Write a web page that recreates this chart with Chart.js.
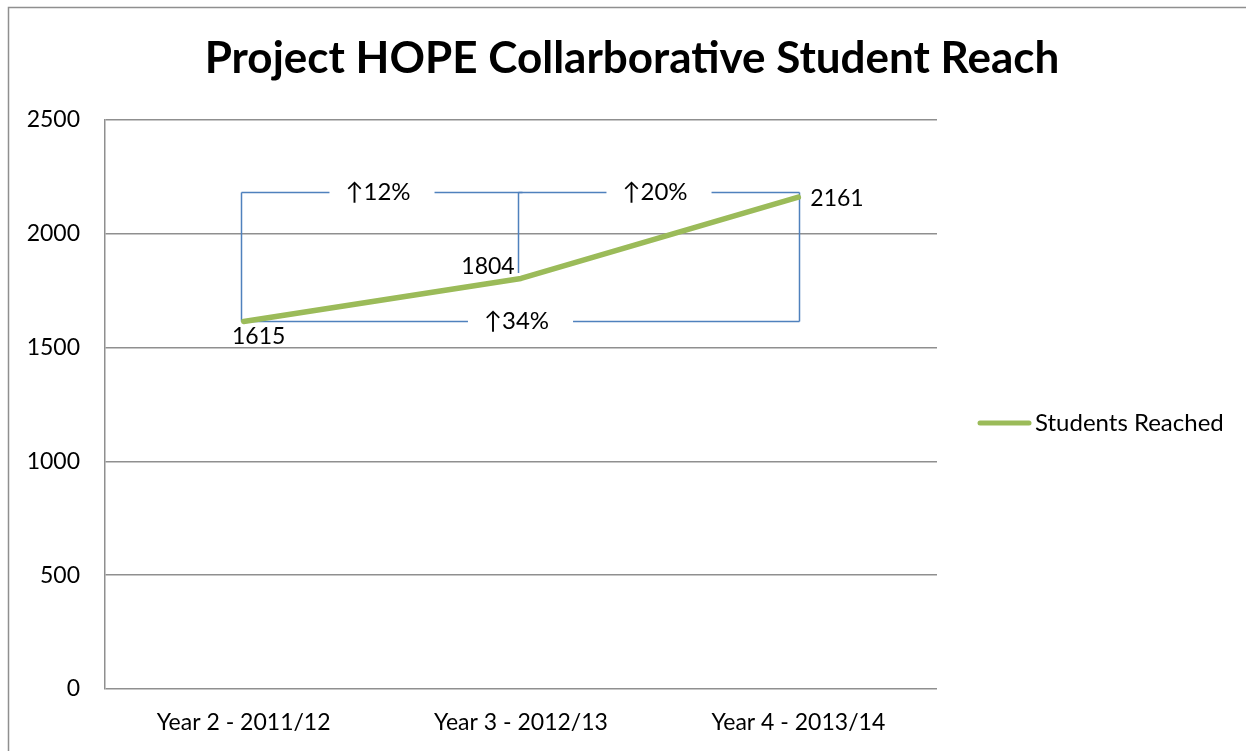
<!DOCTYPE html>
<html>
<head>
<meta charset="utf-8">
<script src="https://cdn.jsdelivr.net/npm/chart.js@4.4.1/dist/chart.umd.min.js"></script>
<style>
html, body { margin: 0; padding: 0; background: #fff; }
</style>
</head>
<body>
<canvas id="chart" width="1246" height="751"></canvas>
<script>
// data
const $title = 'Project HOPE Collarborative Student Reach';
const $categories = ['Year 2 - 2011/12', 'Year 3 - 2012/13', 'Year 4 - 2013/14'];
const $seriesName = 'Students Reached';
const $studentsReached = [1615, 1804, 2161];
const $yMin = 0;
const $yMax = 2500;
const $yStep = 500;
// growth brackets: [from index, to index]
const $brackets = [[0, 1], [1, 2], [0, 2]];

// styles
const $font = 'Lato, "Open Sans", sans-serif';
const $green = '#9BBB59';
const $blue = '#4F81BD';
const $gray = '#8f8f8f';

function growthText(a, b) {
    return '\u2191' + Math.round((b - a) / a * 100) + '%';
}

const $framePlugin = {
    id: 'frame',
    afterDraw(chart) {
        let ctx = chart.ctx;
        ctx.save();
        ctx.strokeStyle = $gray;
        ctx.lineWidth = 1.5;
        ctx.strokeRect(8.5, 7.5, 1260, 760);
        // title
        ctx.fillStyle = '#000';
        ctx.font = 'bold 44px ' + $font;
        ctx.textAlign = 'center';
        ctx.textBaseline = 'middle';
        ctx.fillText($title, 632, 59);
        // legend
        let ly = 423;
        ctx.strokeStyle = $green;
        ctx.lineWidth = 5;
        ctx.lineCap = 'round';
        ctx.beginPath();
        ctx.moveTo(980, ly);
        ctx.lineTo(1029, ly);
        ctx.stroke();
        ctx.font = '24px ' + $font;
        ctx.textAlign = 'left';
        ctx.fillText(chart.data.datasets[0].label, 1035, ly);
        ctx.restore();
    }
};

const $bracketPlugin = {
    id: 'brackets',
    beforeDatasetsDraw(chart) {
        let ctx = chart.ctx;
        let pts = chart.getDatasetMeta(0).data;
        let y = chart.scales.y;
        let vals = chart.data.datasets[0].data;
        let topY = Math.round(y.getPixelForValue(Math.max(...vals))) - 4.5;
        let botY = Math.round(y.getPixelForValue(vals[0])) + 0.5;
        ctx.save();
        ctx.strokeStyle = $blue;
        ctx.lineWidth = 1.5;
        ctx.font = '24px ' + $font;
        ctx.textAlign = 'center';
        ctx.textBaseline = 'middle';
        ctx.fillStyle = '#000';
        $brackets.forEach(function ([i, j]) {
            let x0 = Math.round(pts[i].x) - 2.5;
            let x1 = Math.round(pts[j].x) + 1.5;
            let isSpan = (j - i) > 1;
            let ly = isSpan ? botY : topY;
            let txt = growthText(vals[i], vals[j]);
            let half = ctx.measureText(txt).width / 2 + 20;
            let mid = (x0 + x1) / 2;
            ctx.beginPath();
            ctx.moveTo(x0, ly); ctx.lineTo(mid - half, ly);
            ctx.moveTo(mid + half, ly); ctx.lineTo(x1, ly);
            ctx.stroke();
            ctx.fillText(txt, mid - 4, ly);
        });
        // verticals
        ctx.beginPath();
        pts.forEach(function (p, k) {
            let x = Math.round(p.x) + (k === 2 ? 1.5 : -2.5);
            let end = k === 1 ? Math.round(p.y) - 5 : botY;
            ctx.moveTo(x, topY);
            ctx.lineTo(x, end);
        });
        ctx.stroke();
        ctx.restore();
    }
};

const $labelPlugin = {
    id: 'pointLabels',
    afterDatasetsDraw(chart) {
        let ctx = chart.ctx;
        let pts = chart.getDatasetMeta(0).data;
        let vals = chart.data.datasets[0].data;
        let offsets = [[15, 15, 'center'], [-33, -12, 'center'], [12, 1, 'left']];
        ctx.save();
        ctx.font = '23px ' + $font;
        ctx.fillStyle = '#000';
        ctx.textBaseline = 'middle';
        pts.forEach(function (p, k) {
            ctx.textAlign = offsets[k][2];
            ctx.fillText(String(vals[k]), p.x + offsets[k][0], p.y + offsets[k][1]);
        });
        ctx.restore();
    }
};

let $ctx = document.getElementById('chart').getContext('2d');
let $chart = new Chart($ctx, {
    type: 'line',
    data: {
        labels: $categories,
        datasets: [{
            label: $seriesName,
            data: $studentsReached,
            borderColor: $green,
            borderWidth: 5.5,
            pointRadius: 0,
            tension: 0,
            borderCapStyle: 'round',
            borderJoinStyle: 'round'
        }]
    },
    options: {
        responsive: false,
        animation: false,
        devicePixelRatio: 1,
        layout: {
            padding: { left: 8, right: 309, top: 120, bottom: 0 }
        },
        plugins: {
            legend: { display: false },
            title: { display: false },
            tooltip: { enabled: false }
        },
        scales: {
            x: {
                offset: true,
                grid: { display: false, drawTicks: false },
                border: { display: false },
                ticks: {
                    padding: 20,
                    color: '#000',
                    font: { family: $font, size: 23 },
                    maxRotation: 0
                },
                afterFit: function (scale) { scale.height = 62; }
            },
            y: {
                min: $yMin,
                max: $yMax,
                ticks: {
                    stepSize: $yStep,
                    padding: 25,
                    color: '#000',
                    font: { family: $font, size: 23 },
                    callback: function (v) { return String(v); }
                },
                grid: { color: $gray, lineWidth: 1.5, drawTicks: false },
                border: { display: true, color: $gray, width: 1.5 },
                afterFit: function (scale) { scale.width = 97; }
            }
        }
    },
    plugins: [$bracketPlugin, $labelPlugin, $framePlugin]
});
</script>
</body>
</html>
